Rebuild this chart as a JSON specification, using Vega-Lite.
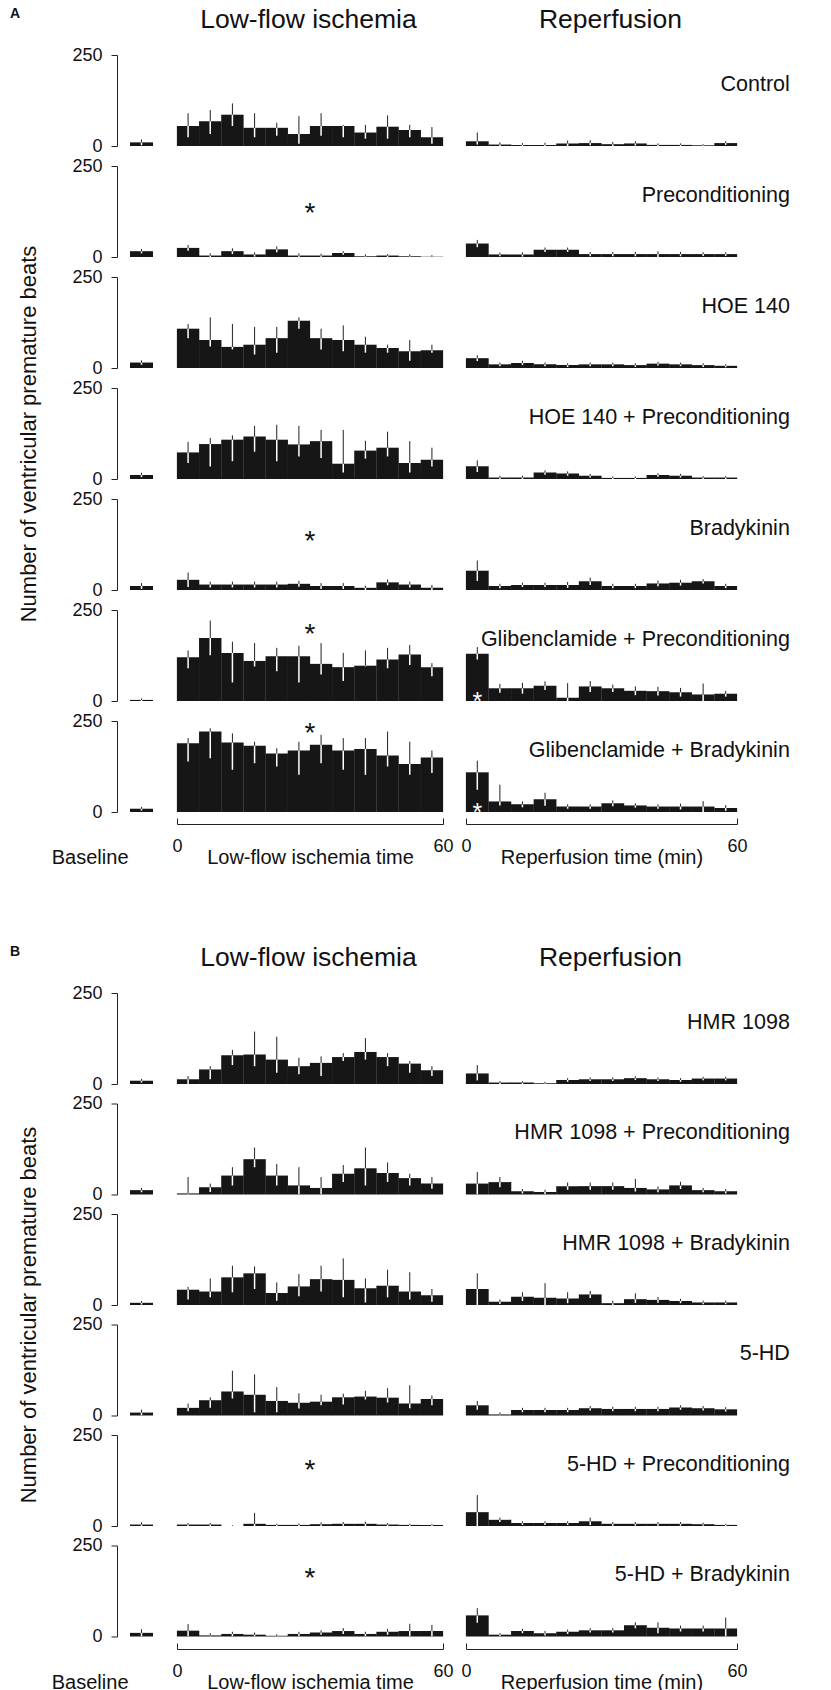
{
"$schema":"https://vega.github.io/schema/vega-lite/v6.json",
"background":"white",
"padding":{"left":9,"top":6,"right":0,"bottom":0},
"config":{"font":"Liberation Sans","view":{"stroke":null},
"axis":{"grid":false,"domainColor":"#222","tickColor":"#222","labelColor":"#111","titleColor":"#111","labelFontSize":18,"titleFontSize":20,"titleFontWeight":"normal","domainWidth":1,"tickWidth":1},
"header":{"titleFontWeight":"normal","titleColor":"#111"},
"title":{"color":"#111","fontWeight":"normal"}},
"datasets":{
"base":[
{"c":"Control","p":"Baseline","v":10,"lo":2,"hi":18},
{"c":"Preconditioning","p":"Baseline","v":16,"lo":10,"hi":22},
{"c":"HOE 140","p":"Baseline","v":15,"lo":9,"hi":21},
{"c":"HOE 140 + Preconditioning","p":"Baseline","v":11,"lo":5,"hi":17},
{"c":"Bradykinin","p":"Baseline","v":11,"lo":3,"hi":19},
{"c":"Glibenclamide + Preconditioning","p":"Baseline","v":3,"lo":0,"hi":7},
{"c":"Glibenclamide + Bradykinin","p":"Baseline","v":9,"lo":4,"hi":14},
{"c":"HMR 1098","p":"Baseline","v":9,"lo":4,"hi":14},
{"c":"HMR 1098 + Preconditioning","p":"Baseline","v":12,"lo":6,"hi":18},
{"c":"HMR 1098 + Bradykinin","p":"Baseline","v":6,"lo":1,"hi":11},
{"c":"5-HD","p":"Baseline","v":8,"lo":0,"hi":16},
{"c":"5-HD + Preconditioning","p":"Baseline","v":4,"lo":0,"hi":10},
{"c":"5-HD + Bradykinin","p":"Baseline","v":10,"lo":0,"hi":20}
],
"isch":[
{"c":"Control","t":2.5,"v":55,"lo":24,"hi":90},
{"c":"Control","t":7.5,"v":68,"lo":33,"hi":99},
{"c":"Control","t":12.5,"v":86,"lo":55,"hi":117},
{"c":"Control","t":17.5,"v":50,"lo":24,"hi":90},
{"c":"Control","t":22.5,"v":50,"lo":28,"hi":64},
{"c":"Control","t":27.5,"v":33,"lo":6,"hi":82},
{"c":"Control","t":32.5,"v":55,"lo":28,"hi":90},
{"c":"Control","t":37.5,"v":55,"lo":24,"hi":58},
{"c":"Control","t":42.5,"v":37,"lo":20,"hi":58},
{"c":"Control","t":47.5,"v":53,"lo":20,"hi":84},
{"c":"Control","t":52.5,"v":44,"lo":24,"hi":58},
{"c":"Control","t":57.5,"v":24,"lo":6,"hi":52},
{"c":"Preconditioning","t":2.5,"v":25,"lo":17,"hi":33},
{"c":"Preconditioning","t":7.5,"v":4,"lo":0,"hi":10},
{"c":"Preconditioning","t":12.5,"v":16,"lo":8,"hi":24},
{"c":"Preconditioning","t":17.5,"v":7,"lo":1,"hi":13},
{"c":"Preconditioning","t":22.5,"v":21,"lo":13,"hi":29},
{"c":"Preconditioning","t":27.5,"v":4,"lo":0,"hi":10},
{"c":"Preconditioning","t":32.5,"v":4,"lo":0,"hi":9},
{"c":"Preconditioning","t":37.5,"v":11,"lo":6,"hi":16},
{"c":"Preconditioning","t":42.5,"v":2,"lo":0,"hi":7},
{"c":"Preconditioning","t":47.5,"v":4,"lo":0,"hi":8},
{"c":"Preconditioning","t":52.5,"v":2,"lo":0,"hi":7},
{"c":"Preconditioning","t":57.5,"v":1,"lo":0,"hi":5},
{"c":"HOE 140","t":2.5,"v":108,"lo":82,"hi":121},
{"c":"HOE 140","t":7.5,"v":77,"lo":59,"hi":139},
{"c":"HOE 140","t":12.5,"v":58,"lo":51,"hi":121},
{"c":"HOE 140","t":17.5,"v":64,"lo":37,"hi":113},
{"c":"HOE 140","t":22.5,"v":82,"lo":42,"hi":113},
{"c":"HOE 140","t":27.5,"v":130,"lo":108,"hi":139},
{"c":"HOE 140","t":32.5,"v":82,"lo":51,"hi":108},
{"c":"HOE 140","t":37.5,"v":77,"lo":46,"hi":117},
{"c":"HOE 140","t":42.5,"v":64,"lo":42,"hi":86},
{"c":"HOE 140","t":47.5,"v":55,"lo":42,"hi":64},
{"c":"HOE 140","t":52.5,"v":46,"lo":20,"hi":77},
{"c":"HOE 140","t":57.5,"v":49,"lo":42,"hi":64},
{"c":"HOE 140 + Preconditioning","t":2.5,"v":73,"lo":44,"hi":102},
{"c":"HOE 140 + Preconditioning","t":7.5,"v":96,"lo":34,"hi":113},
{"c":"HOE 140 + Preconditioning","t":12.5,"v":108,"lo":49,"hi":120},
{"c":"HOE 140 + Preconditioning","t":17.5,"v":117,"lo":75,"hi":146},
{"c":"HOE 140 + Preconditioning","t":22.5,"v":108,"lo":49,"hi":149},
{"c":"HOE 140 + Preconditioning","t":27.5,"v":95,"lo":62,"hi":146},
{"c":"HOE 140 + Preconditioning","t":32.5,"v":104,"lo":58,"hi":135},
{"c":"HOE 140 + Preconditioning","t":37.5,"v":42,"lo":18,"hi":135},
{"c":"HOE 140 + Preconditioning","t":42.5,"v":78,"lo":56,"hi":105},
{"c":"HOE 140 + Preconditioning","t":47.5,"v":86,"lo":62,"hi":130},
{"c":"HOE 140 + Preconditioning","t":52.5,"v":44,"lo":18,"hi":104},
{"c":"HOE 140 + Preconditioning","t":57.5,"v":53,"lo":34,"hi":86},
{"c":"Bradykinin","t":2.5,"v":28,"lo":8,"hi":48},
{"c":"Bradykinin","t":7.5,"v":15,"lo":7,"hi":23},
{"c":"Bradykinin","t":12.5,"v":15,"lo":7,"hi":23},
{"c":"Bradykinin","t":17.5,"v":15,"lo":7,"hi":23},
{"c":"Bradykinin","t":22.5,"v":15,"lo":7,"hi":23},
{"c":"Bradykinin","t":27.5,"v":17,"lo":9,"hi":25},
{"c":"Bradykinin","t":32.5,"v":11,"lo":3,"hi":19},
{"c":"Bradykinin","t":37.5,"v":11,"lo":3,"hi":19},
{"c":"Bradykinin","t":42.5,"v":6,"lo":0,"hi":12},
{"c":"Bradykinin","t":47.5,"v":21,"lo":13,"hi":29},
{"c":"Bradykinin","t":52.5,"v":15,"lo":7,"hi":23},
{"c":"Bradykinin","t":57.5,"v":6,"lo":0,"hi":14},
{"c":"Glibenclamide + Preconditioning","t":2.5,"v":120,"lo":90,"hi":139},
{"c":"Glibenclamide + Preconditioning","t":7.5,"v":173,"lo":126,"hi":221},
{"c":"Glibenclamide + Preconditioning","t":12.5,"v":132,"lo":51,"hi":163},
{"c":"Glibenclamide + Preconditioning","t":17.5,"v":110,"lo":95,"hi":159},
{"c":"Glibenclamide + Preconditioning","t":22.5,"v":123,"lo":82,"hi":146},
{"c":"Glibenclamide + Preconditioning","t":27.5,"v":123,"lo":51,"hi":152},
{"c":"Glibenclamide + Preconditioning","t":32.5,"v":102,"lo":73,"hi":159},
{"c":"Glibenclamide + Preconditioning","t":37.5,"v":93,"lo":55,"hi":132},
{"c":"Glibenclamide + Preconditioning","t":42.5,"v":97,"lo":95,"hi":139},
{"c":"Glibenclamide + Preconditioning","t":47.5,"v":114,"lo":90,"hi":146},
{"c":"Glibenclamide + Preconditioning","t":52.5,"v":128,"lo":99,"hi":154},
{"c":"Glibenclamide + Preconditioning","t":57.5,"v":93,"lo":68,"hi":104},
{"c":"Glibenclamide + Bradykinin","t":2.5,"v":189,"lo":139,"hi":203},
{"c":"Glibenclamide + Bradykinin","t":7.5,"v":221,"lo":148,"hi":230},
{"c":"Glibenclamide + Bradykinin","t":12.5,"v":191,"lo":116,"hi":216},
{"c":"Glibenclamide + Bradykinin","t":17.5,"v":182,"lo":134,"hi":193},
{"c":"Glibenclamide + Bradykinin","t":22.5,"v":161,"lo":125,"hi":175},
{"c":"Glibenclamide + Bradykinin","t":27.5,"v":169,"lo":102,"hi":193},
{"c":"Glibenclamide + Bradykinin","t":32.5,"v":185,"lo":134,"hi":212},
{"c":"Glibenclamide + Bradykinin","t":37.5,"v":169,"lo":116,"hi":203},
{"c":"Glibenclamide + Bradykinin","t":42.5,"v":173,"lo":102,"hi":203},
{"c":"Glibenclamide + Bradykinin","t":47.5,"v":155,"lo":125,"hi":221},
{"c":"Glibenclamide + Bradykinin","t":52.5,"v":132,"lo":102,"hi":193},
{"c":"Glibenclamide + Bradykinin","t":57.5,"v":150,"lo":107,"hi":169},
{"c":"HMR 1098","t":2.5,"v":13,"lo":0,"hi":22},
{"c":"HMR 1098","t":7.5,"v":40,"lo":13,"hi":49},
{"c":"HMR 1098","t":12.5,"v":79,"lo":52,"hi":94},
{"c":"HMR 1098","t":17.5,"v":81,"lo":49,"hi":144},
{"c":"HMR 1098","t":22.5,"v":67,"lo":31,"hi":130},
{"c":"HMR 1098","t":27.5,"v":49,"lo":27,"hi":72},
{"c":"HMR 1098","t":32.5,"v":58,"lo":22,"hi":76},
{"c":"HMR 1098","t":37.5,"v":74,"lo":63,"hi":85},
{"c":"HMR 1098","t":42.5,"v":88,"lo":67,"hi":126},
{"c":"HMR 1098","t":47.5,"v":74,"lo":49,"hi":85},
{"c":"HMR 1098","t":52.5,"v":56,"lo":31,"hi":63},
{"c":"HMR 1098","t":57.5,"v":38,"lo":22,"hi":49},
{"c":"HMR 1098 + Preconditioning","t":2.5,"v":3,"lo":0,"hi":48},
{"c":"HMR 1098 + Preconditioning","t":7.5,"v":20,"lo":7,"hi":30},
{"c":"HMR 1098 + Preconditioning","t":12.5,"v":52,"lo":25,"hi":75},
{"c":"HMR 1098 + Preconditioning","t":17.5,"v":97,"lo":75,"hi":129},
{"c":"HMR 1098 + Preconditioning","t":22.5,"v":52,"lo":25,"hi":84},
{"c":"HMR 1098 + Preconditioning","t":27.5,"v":25,"lo":0,"hi":75},
{"c":"HMR 1098 + Preconditioning","t":32.5,"v":18,"lo":0,"hi":48},
{"c":"HMR 1098 + Preconditioning","t":37.5,"v":57,"lo":34,"hi":81},
{"c":"HMR 1098 + Preconditioning","t":42.5,"v":72,"lo":25,"hi":129},
{"c":"HMR 1098 + Preconditioning","t":47.5,"v":59,"lo":34,"hi":88},
{"c":"HMR 1098 + Preconditioning","t":52.5,"v":45,"lo":25,"hi":57},
{"c":"HMR 1098 + Preconditioning","t":57.5,"v":30,"lo":16,"hi":48},
{"c":"HMR 1098 + Bradykinin","t":2.5,"v":42,"lo":15,"hi":50},
{"c":"HMR 1098 + Bradykinin","t":7.5,"v":37,"lo":21,"hi":73},
{"c":"HMR 1098 + Bradykinin","t":12.5,"v":76,"lo":35,"hi":108},
{"c":"HMR 1098 + Bradykinin","t":17.5,"v":87,"lo":44,"hi":106},
{"c":"HMR 1098 + Bradykinin","t":22.5,"v":33,"lo":12,"hi":62},
{"c":"HMR 1098 + Bradykinin","t":27.5,"v":51,"lo":24,"hi":85},
{"c":"HMR 1098 + Bradykinin","t":32.5,"v":71,"lo":37,"hi":108},
{"c":"HMR 1098 + Bradykinin","t":37.5,"v":69,"lo":21,"hi":128},
{"c":"HMR 1098 + Bradykinin","t":42.5,"v":46,"lo":7,"hi":73},
{"c":"HMR 1098 + Bradykinin","t":47.5,"v":53,"lo":21,"hi":97},
{"c":"HMR 1098 + Bradykinin","t":52.5,"v":37,"lo":15,"hi":90},
{"c":"HMR 1098 + Bradykinin","t":57.5,"v":27,"lo":9,"hi":44},
{"c":"5-HD","t":2.5,"v":21,"lo":12,"hi":33},
{"c":"5-HD","t":7.5,"v":42,"lo":21,"hi":50},
{"c":"5-HD","t":12.5,"v":66,"lo":47,"hi":123},
{"c":"5-HD","t":17.5,"v":57,"lo":9,"hi":113},
{"c":"5-HD","t":22.5,"v":40,"lo":9,"hi":78},
{"c":"5-HD","t":27.5,"v":35,"lo":19,"hi":61},
{"c":"5-HD","t":32.5,"v":38,"lo":28,"hi":57},
{"c":"5-HD","t":37.5,"v":50,"lo":30,"hi":60},
{"c":"5-HD","t":42.5,"v":52,"lo":44,"hi":68},
{"c":"5-HD","t":47.5,"v":49,"lo":36,"hi":75},
{"c":"5-HD","t":52.5,"v":33,"lo":20,"hi":83},
{"c":"5-HD","t":57.5,"v":45,"lo":28,"hi":55},
{"c":"5-HD + Preconditioning","t":2.5,"v":4,"lo":0,"hi":8},
{"c":"5-HD + Preconditioning","t":7.5,"v":4,"lo":0,"hi":8},
{"c":"5-HD + Preconditioning","t":12.5,"v":0,"lo":0,"hi":2},
{"c":"5-HD + Preconditioning","t":17.5,"v":6,"lo":0,"hi":36},
{"c":"5-HD + Preconditioning","t":22.5,"v":3,"lo":0,"hi":6},
{"c":"5-HD + Preconditioning","t":27.5,"v":3,"lo":0,"hi":7},
{"c":"5-HD + Preconditioning","t":32.5,"v":5,"lo":0,"hi":10},
{"c":"5-HD + Preconditioning","t":37.5,"v":6,"lo":1,"hi":11},
{"c":"5-HD + Preconditioning","t":42.5,"v":6,"lo":0,"hi":12},
{"c":"5-HD + Preconditioning","t":47.5,"v":4,"lo":0,"hi":8},
{"c":"5-HD + Preconditioning","t":52.5,"v":3,"lo":0,"hi":6},
{"c":"5-HD + Preconditioning","t":57.5,"v":3,"lo":0,"hi":6},
{"c":"5-HD + Bradykinin","t":2.5,"v":16,"lo":0,"hi":34},
{"c":"5-HD + Bradykinin","t":7.5,"v":3,"lo":0,"hi":9},
{"c":"5-HD + Bradykinin","t":12.5,"v":7,"lo":1,"hi":13},
{"c":"5-HD + Bradykinin","t":17.5,"v":5,"lo":0,"hi":11},
{"c":"5-HD + Bradykinin","t":22.5,"v":2,"lo":0,"hi":6},
{"c":"5-HD + Bradykinin","t":27.5,"v":7,"lo":1,"hi":13},
{"c":"5-HD + Bradykinin","t":32.5,"v":11,"lo":5,"hi":17},
{"c":"5-HD + Bradykinin","t":37.5,"v":15,"lo":7,"hi":23},
{"c":"5-HD + Bradykinin","t":42.5,"v":7,"lo":1,"hi":13},
{"c":"5-HD + Bradykinin","t":47.5,"v":13,"lo":5,"hi":21},
{"c":"5-HD + Bradykinin","t":52.5,"v":15,"lo":0,"hi":35},
{"c":"5-HD + Bradykinin","t":57.5,"v":15,"lo":0,"hi":32},
{"c":"Preconditioning","t":30,"s":137},
{"c":"Bradykinin","t":30,"s":151},
{"c":"Glibenclamide + Preconditioning","t":30,"s":200},
{"c":"Glibenclamide + Bradykinin","t":30,"s":234},
{"c":"5-HD + Preconditioning","t":30,"s":170},
{"c":"5-HD + Bradykinin","t":30,"s":176}
],
"rep":[
{"c":"Control","t":2.5,"v":13,"lo":4,"hi":37},
{"c":"Control","t":7.5,"v":4,"lo":0,"hi":10},
{"c":"Control","t":12.5,"v":3,"lo":0,"hi":8},
{"c":"Control","t":17.5,"v":3,"lo":0,"hi":9},
{"c":"Control","t":22.5,"v":7,"lo":0,"hi":15},
{"c":"Control","t":27.5,"v":8,"lo":2,"hi":16},
{"c":"Control","t":32.5,"v":5,"lo":0,"hi":11},
{"c":"Control","t":37.5,"v":7,"lo":1,"hi":13},
{"c":"Control","t":42.5,"v":3,"lo":0,"hi":7},
{"c":"Control","t":47.5,"v":3,"lo":0,"hi":7},
{"c":"Control","t":52.5,"v":2,"lo":0,"hi":5},
{"c":"Control","t":57.5,"v":8,"lo":3,"hi":13},
{"c":"Preconditioning","t":2.5,"v":37,"lo":27,"hi":47},
{"c":"Preconditioning","t":7.5,"v":7,"lo":2,"hi":12},
{"c":"Preconditioning","t":12.5,"v":7,"lo":1,"hi":13},
{"c":"Preconditioning","t":17.5,"v":20,"lo":14,"hi":26},
{"c":"Preconditioning","t":22.5,"v":20,"lo":14,"hi":26},
{"c":"Preconditioning","t":27.5,"v":8,"lo":2,"hi":14},
{"c":"Preconditioning","t":32.5,"v":8,"lo":2,"hi":14},
{"c":"Preconditioning","t":37.5,"v":8,"lo":2,"hi":14},
{"c":"Preconditioning","t":42.5,"v":8,"lo":0,"hi":16},
{"c":"Preconditioning","t":47.5,"v":8,"lo":2,"hi":14},
{"c":"Preconditioning","t":52.5,"v":8,"lo":3,"hi":13},
{"c":"Preconditioning","t":57.5,"v":8,"lo":3,"hi":13},
{"c":"HOE 140","t":2.5,"v":27,"lo":19,"hi":35},
{"c":"HOE 140","t":7.5,"v":10,"lo":5,"hi":15},
{"c":"HOE 140","t":12.5,"v":14,"lo":8,"hi":20},
{"c":"HOE 140","t":17.5,"v":10,"lo":5,"hi":15},
{"c":"HOE 140","t":22.5,"v":8,"lo":3,"hi":13},
{"c":"HOE 140","t":27.5,"v":10,"lo":5,"hi":15},
{"c":"HOE 140","t":32.5,"v":10,"lo":5,"hi":15},
{"c":"HOE 140","t":37.5,"v":8,"lo":3,"hi":13},
{"c":"HOE 140","t":42.5,"v":12,"lo":7,"hi":17},
{"c":"HOE 140","t":47.5,"v":10,"lo":5,"hi":15},
{"c":"HOE 140","t":52.5,"v":8,"lo":3,"hi":13},
{"c":"HOE 140","t":57.5,"v":6,"lo":2,"hi":10},
{"c":"HOE 140 + Preconditioning","t":2.5,"v":35,"lo":19,"hi":51},
{"c":"HOE 140 + Preconditioning","t":7.5,"v":4,"lo":0,"hi":9},
{"c":"HOE 140 + Preconditioning","t":12.5,"v":4,"lo":0,"hi":9},
{"c":"HOE 140 + Preconditioning","t":17.5,"v":18,"lo":12,"hi":24},
{"c":"HOE 140 + Preconditioning","t":22.5,"v":15,"lo":9,"hi":21},
{"c":"HOE 140 + Preconditioning","t":27.5,"v":9,"lo":4,"hi":14},
{"c":"HOE 140 + Preconditioning","t":32.5,"v":3,"lo":0,"hi":7},
{"c":"HOE 140 + Preconditioning","t":37.5,"v":3,"lo":0,"hi":7},
{"c":"HOE 140 + Preconditioning","t":42.5,"v":11,"lo":6,"hi":16},
{"c":"HOE 140 + Preconditioning","t":47.5,"v":9,"lo":4,"hi":14},
{"c":"HOE 140 + Preconditioning","t":52.5,"v":4,"lo":0,"hi":8},
{"c":"HOE 140 + Preconditioning","t":57.5,"v":4,"lo":0,"hi":8},
{"c":"Bradykinin","t":2.5,"v":53,"lo":25,"hi":81},
{"c":"Bradykinin","t":7.5,"v":11,"lo":5,"hi":17},
{"c":"Bradykinin","t":12.5,"v":14,"lo":8,"hi":20},
{"c":"Bradykinin","t":17.5,"v":14,"lo":8,"hi":20},
{"c":"Bradykinin","t":22.5,"v":14,"lo":6,"hi":22},
{"c":"Bradykinin","t":27.5,"v":24,"lo":14,"hi":34},
{"c":"Bradykinin","t":32.5,"v":11,"lo":5,"hi":17},
{"c":"Bradykinin","t":37.5,"v":11,"lo":5,"hi":17},
{"c":"Bradykinin","t":42.5,"v":18,"lo":10,"hi":26},
{"c":"Bradykinin","t":47.5,"v":20,"lo":12,"hi":28},
{"c":"Bradykinin","t":52.5,"v":24,"lo":18,"hi":30},
{"c":"Bradykinin","t":57.5,"v":11,"lo":5,"hi":17},
{"c":"Glibenclamide + Preconditioning","t":2.5,"v":130,"lo":114,"hi":148},
{"c":"Glibenclamide + Preconditioning","t":7.5,"v":35,"lo":23,"hi":47},
{"c":"Glibenclamide + Preconditioning","t":12.5,"v":35,"lo":20,"hi":50},
{"c":"Glibenclamide + Preconditioning","t":17.5,"v":42,"lo":30,"hi":54},
{"c":"Glibenclamide + Preconditioning","t":22.5,"v":9,"lo":0,"hi":49},
{"c":"Glibenclamide + Preconditioning","t":27.5,"v":40,"lo":25,"hi":55},
{"c":"Glibenclamide + Preconditioning","t":32.5,"v":35,"lo":25,"hi":45},
{"c":"Glibenclamide + Preconditioning","t":37.5,"v":28,"lo":16,"hi":40},
{"c":"Glibenclamide + Preconditioning","t":42.5,"v":27,"lo":15,"hi":39},
{"c":"Glibenclamide + Preconditioning","t":47.5,"v":24,"lo":12,"hi":36},
{"c":"Glibenclamide + Preconditioning","t":52.5,"v":18,"lo":0,"hi":48},
{"c":"Glibenclamide + Preconditioning","t":57.5,"v":20,"lo":12,"hi":28},
{"c":"Glibenclamide + Bradykinin","t":2.5,"v":109,"lo":61,"hi":141},
{"c":"Glibenclamide + Bradykinin","t":7.5,"v":29,"lo":18,"hi":75},
{"c":"Glibenclamide + Bradykinin","t":12.5,"v":21,"lo":13,"hi":29},
{"c":"Glibenclamide + Bradykinin","t":17.5,"v":35,"lo":17,"hi":53},
{"c":"Glibenclamide + Bradykinin","t":22.5,"v":15,"lo":9,"hi":21},
{"c":"Glibenclamide + Bradykinin","t":27.5,"v":15,"lo":9,"hi":21},
{"c":"Glibenclamide + Bradykinin","t":32.5,"v":24,"lo":16,"hi":32},
{"c":"Glibenclamide + Bradykinin","t":37.5,"v":18,"lo":12,"hi":24},
{"c":"Glibenclamide + Bradykinin","t":42.5,"v":15,"lo":9,"hi":21},
{"c":"Glibenclamide + Bradykinin","t":47.5,"v":15,"lo":7,"hi":23},
{"c":"Glibenclamide + Bradykinin","t":52.5,"v":15,"lo":0,"hi":30},
{"c":"Glibenclamide + Bradykinin","t":57.5,"v":11,"lo":3,"hi":19},
{"c":"HMR 1098","t":2.5,"v":29,"lo":10,"hi":52},
{"c":"HMR 1098","t":7.5,"v":4,"lo":0,"hi":8},
{"c":"HMR 1098","t":12.5,"v":4,"lo":0,"hi":8},
{"c":"HMR 1098","t":17.5,"v":2,"lo":0,"hi":6},
{"c":"HMR 1098","t":22.5,"v":11,"lo":6,"hi":16},
{"c":"HMR 1098","t":27.5,"v":13,"lo":8,"hi":18},
{"c":"HMR 1098","t":32.5,"v":13,"lo":8,"hi":18},
{"c":"HMR 1098","t":37.5,"v":16,"lo":11,"hi":21},
{"c":"HMR 1098","t":42.5,"v":13,"lo":8,"hi":18},
{"c":"HMR 1098","t":47.5,"v":11,"lo":6,"hi":16},
{"c":"HMR 1098","t":52.5,"v":15,"lo":10,"hi":20},
{"c":"HMR 1098","t":57.5,"v":15,"lo":10,"hi":20},
{"c":"HMR 1098 + Preconditioning","t":2.5,"v":30,"lo":0,"hi":62},
{"c":"HMR 1098 + Preconditioning","t":7.5,"v":34,"lo":20,"hi":48},
{"c":"HMR 1098 + Preconditioning","t":12.5,"v":9,"lo":3,"hi":15},
{"c":"HMR 1098 + Preconditioning","t":17.5,"v":7,"lo":1,"hi":13},
{"c":"HMR 1098 + Preconditioning","t":22.5,"v":23,"lo":13,"hi":33},
{"c":"HMR 1098 + Preconditioning","t":27.5,"v":23,"lo":13,"hi":33},
{"c":"HMR 1098 + Preconditioning","t":32.5,"v":23,"lo":13,"hi":33},
{"c":"HMR 1098 + Preconditioning","t":37.5,"v":18,"lo":8,"hi":43},
{"c":"HMR 1098 + Preconditioning","t":42.5,"v":14,"lo":6,"hi":22},
{"c":"HMR 1098 + Preconditioning","t":47.5,"v":25,"lo":15,"hi":35},
{"c":"HMR 1098 + Preconditioning","t":52.5,"v":12,"lo":6,"hi":18},
{"c":"HMR 1098 + Preconditioning","t":57.5,"v":9,"lo":3,"hi":15},
{"c":"HMR 1098 + Bradykinin","t":2.5,"v":44,"lo":0,"hi":87},
{"c":"HMR 1098 + Bradykinin","t":7.5,"v":9,"lo":3,"hi":15},
{"c":"HMR 1098 + Bradykinin","t":12.5,"v":23,"lo":11,"hi":35},
{"c":"HMR 1098 + Bradykinin","t":17.5,"v":20,"lo":0,"hi":60},
{"c":"HMR 1098 + Bradykinin","t":22.5,"v":18,"lo":5,"hi":35},
{"c":"HMR 1098 + Bradykinin","t":27.5,"v":29,"lo":19,"hi":39},
{"c":"HMR 1098 + Bradykinin","t":32.5,"v":5,"lo":0,"hi":12},
{"c":"HMR 1098 + Bradykinin","t":37.5,"v":16,"lo":6,"hi":32},
{"c":"HMR 1098 + Bradykinin","t":42.5,"v":14,"lo":6,"hi":22},
{"c":"HMR 1098 + Bradykinin","t":47.5,"v":11,"lo":5,"hi":17},
{"c":"HMR 1098 + Bradykinin","t":52.5,"v":7,"lo":2,"hi":12},
{"c":"HMR 1098 + Bradykinin","t":57.5,"v":7,"lo":2,"hi":12},
{"c":"5-HD","t":2.5,"v":28,"lo":16,"hi":40},
{"c":"5-HD","t":7.5,"v":3,"lo":0,"hi":8},
{"c":"5-HD","t":12.5,"v":15,"lo":9,"hi":21},
{"c":"5-HD","t":17.5,"v":15,"lo":9,"hi":21},
{"c":"5-HD","t":22.5,"v":15,"lo":9,"hi":21},
{"c":"5-HD","t":27.5,"v":20,"lo":14,"hi":26},
{"c":"5-HD","t":32.5,"v":18,"lo":12,"hi":24},
{"c":"5-HD","t":37.5,"v":18,"lo":12,"hi":24},
{"c":"5-HD","t":42.5,"v":18,"lo":12,"hi":24},
{"c":"5-HD","t":47.5,"v":22,"lo":16,"hi":28},
{"c":"5-HD","t":52.5,"v":20,"lo":14,"hi":26},
{"c":"5-HD","t":57.5,"v":17,"lo":11,"hi":23},
{"c":"5-HD + Preconditioning","t":2.5,"v":38,"lo":0,"hi":85},
{"c":"5-HD + Preconditioning","t":7.5,"v":17,"lo":11,"hi":23},
{"c":"5-HD + Preconditioning","t":12.5,"v":8,"lo":3,"hi":13},
{"c":"5-HD + Preconditioning","t":17.5,"v":8,"lo":3,"hi":13},
{"c":"5-HD + Preconditioning","t":22.5,"v":8,"lo":3,"hi":13},
{"c":"5-HD + Preconditioning","t":27.5,"v":13,"lo":3,"hi":23},
{"c":"5-HD + Preconditioning","t":32.5,"v":6,"lo":1,"hi":11},
{"c":"5-HD + Preconditioning","t":37.5,"v":6,"lo":1,"hi":11},
{"c":"5-HD + Preconditioning","t":42.5,"v":6,"lo":1,"hi":11},
{"c":"5-HD + Preconditioning","t":47.5,"v":6,"lo":1,"hi":11},
{"c":"5-HD + Preconditioning","t":52.5,"v":5,"lo":1,"hi":9},
{"c":"5-HD + Preconditioning","t":57.5,"v":3,"lo":0,"hi":6},
{"c":"5-HD + Bradykinin","t":2.5,"v":58,"lo":38,"hi":78},
{"c":"5-HD + Bradykinin","t":7.5,"v":5,"lo":1,"hi":9},
{"c":"5-HD + Bradykinin","t":12.5,"v":15,"lo":9,"hi":21},
{"c":"5-HD + Bradykinin","t":17.5,"v":9,"lo":3,"hi":15},
{"c":"5-HD + Bradykinin","t":22.5,"v":13,"lo":7,"hi":19},
{"c":"5-HD + Bradykinin","t":27.5,"v":17,"lo":11,"hi":23},
{"c":"5-HD + Bradykinin","t":32.5,"v":17,"lo":11,"hi":23},
{"c":"5-HD + Bradykinin","t":37.5,"v":31,"lo":23,"hi":39},
{"c":"5-HD + Bradykinin","t":42.5,"v":24,"lo":9,"hi":39},
{"c":"5-HD + Bradykinin","t":47.5,"v":22,"lo":14,"hi":30},
{"c":"5-HD + Bradykinin","t":52.5,"v":22,"lo":14,"hi":30},
{"c":"5-HD + Bradykinin","t":57.5,"v":22,"lo":0,"hi":52},
{"c":"Glibenclamide + Preconditioning","t":2.5,"w":13},
{"c":"Glibenclamide + Bradykinin","t":2.5,"w":13}
]
},
"vconcat":[
{"hconcat":[
 {"data":{"name":"base"},
  "transform":[{"filter":{"field":"c","oneOf":["Control","Preconditioning","HOE 140","HOE 140 + Preconditioning","Bradykinin","Glibenclamide + Preconditioning","Glibenclamide + Bradykinin"]}}],
  "title":{"text":"A","fontSize":14,"fontWeight":"bold","anchor":"start","offset":25.5,"dx":-8},
  "facet":{"row":{"field":"c","type":"nominal","sort":["Control","Preconditioning","HOE 140","HOE 140 + Preconditioning","Bradykinin","Glibenclamide + Preconditioning","Glibenclamide + Bradykinin"],"title":"Number of ventricular premature beats","header":{"labels":false,"titleFontSize":22,"titleFontWeight":"normal","titlePadding":20}}},
  "spacing":{"row":20},
  "spec":{"width":35,"height":91,
   "encoding":{
    "x":{"field":"p","type":"nominal","scale":{"paddingInner":0,"paddingOuter":0.2609,"align":0},"axis":{"labels":false,"ticks":false,"domain":false,"title":"Baseline","titleAlign":"right","titleX":-2,"titlePadding":35}},
    "y":{"field":"v","type":"quantitative","scale":{"domain":[0,250],"nice":false},"axis":{"values":[0,250],"title":null,"offset":13,"tickSize":6,"labelPadding":9}}},
   "layer":[
    {"mark":{"type":"bar","color":"#161616"},"encoding":{}},
    {"mark":{"type":"rule","color":"white","strokeWidth":1.5,"clip":true},"encoding":{"y2":{"field":"lo"}}},
    {"mark":{"type":"rule","color":"#222","strokeWidth":1,"clip":true},"encoding":{"y2":{"field":"hi"}}}
   ]}},
 {"data":{"name":"isch"},
  "transform":[{"filter":{"field":"c","oneOf":["Control","Preconditioning","HOE 140","HOE 140 + Preconditioning","Bradykinin","Glibenclamide + Preconditioning","Glibenclamide + Bradykinin"]}}],
  "title":{"text":"Low-flow ischemia","fontSize":26.5,"fontWeight":"normal","anchor":"middle","offset":22,"dx":-4},
  "facet":{"row":{"field":"c","type":"nominal","sort":["Control","Preconditioning","HOE 140","HOE 140 + Preconditioning","Bradykinin","Glibenclamide + Preconditioning","Glibenclamide + Bradykinin"],"title":null,"header":{"labels":false,"title":null}}},
  "spacing":{"row":20},
  "spec":{"width":266,"height":91,
   "encoding":{
    "x":{"field":"t","type":"quantitative","scale":{"domain":[0,60],"nice":false,"zero":false,"padding":0},"axis":{"values":[0,60],"title":"Low-flow ischemia time","labelFlush":false,"offset":12,"tickSize":-6,"labelPadding":19,"titlePadding":-8}},
    "y":{"field":"v","type":"quantitative","scale":{"domain":[0,250],"nice":false},"axis":null}},
   "layer":[
    {"transform":[{"filter":"isValid(datum.v)"}],"mark":{"type":"bar","size":22.4,"color":"#161616"},"encoding":{}},
    {"transform":[{"filter":"isValid(datum.v)"}],"mark":{"type":"rule","color":"white","strokeWidth":1.5,"clip":true},"encoding":{"y2":{"field":"lo"}}},
    {"transform":[{"filter":"isValid(datum.v)"}],"mark":{"type":"rule","color":"#222","strokeWidth":1,"clip":true},"encoding":{"y2":{"field":"hi"}}},
    {"transform":[{"filter":"isValid(datum.s)"}],"mark":{"type":"text","text":"*","fontSize":28,"baseline":"alphabetic","dy":15,"color":"#111","clip":true},"encoding":{"y":{"field":"s","type":"quantitative","axis":null}}}
   ]}},
 {"data":{"name":"rep"},
  "transform":[{"filter":{"field":"c","oneOf":["Control","Preconditioning","HOE 140","HOE 140 + Preconditioning","Bradykinin","Glibenclamide + Preconditioning","Glibenclamide + Bradykinin"]}}],
  "title":{"text":"Reperfusion","fontSize":26.5,"fontWeight":"normal","anchor":"middle","offset":22,"dx":-15},
  "facet":{"row":{"field":"c","type":"nominal","sort":["Control","Preconditioning","HOE 140","HOE 140 + Preconditioning","Bradykinin","Glibenclamide + Preconditioning","Glibenclamide + Bradykinin"],"title":null,"header":{"labels":false,"title":null}}},
  "spacing":{"row":20},
  "spec":{"width":271,"height":91,
   "encoding":{
    "x":{"field":"t","type":"quantitative","scale":{"domain":[0,60],"nice":false,"zero":false,"padding":0},"axis":{"values":[0,60],"title":"Reperfusion time (min)","labelFlush":false,"offset":12,"tickSize":-6,"labelPadding":19,"titlePadding":-8}},
    "y":{"field":"v","type":"quantitative","scale":{"domain":[0,250],"nice":false},"axis":null}},
   "layer":[
    {"transform":[{"filter":"isValid(datum.v)"}],"mark":{"type":"bar","size":22.8,"color":"#161616"},"encoding":{}},
    {"transform":[{"filter":"isValid(datum.v)"}],"mark":{"type":"rule","color":"white","strokeWidth":1.5,"clip":true},"encoding":{"y2":{"field":"lo"}}},
    {"transform":[{"filter":"isValid(datum.v)"}],"mark":{"type":"rule","color":"#222","strokeWidth":1,"clip":true},"encoding":{"y2":{"field":"hi"}}},
    {"transform":[{"filter":"isValid(datum.w)"}],"mark":{"type":"text","text":"*","fontSize":25,"baseline":"alphabetic","dy":14,"color":"white","clip":true},"encoding":{"y":{"field":"w","type":"quantitative","axis":null}}},
    {"transform":[{"filter":"datum.t == 2.5 && isValid(datum.v)"}],"mark":{"type":"text","align":"right","baseline":"middle","fontSize":21.5,"color":"#111"},"encoding":{"x":{"datum":71.7},"y":{"datum":168},"text":{"field":"c"}}}
   ]}}
],"spacing":6},
{"hconcat":[
 {"data":{"name":"base"},
  "transform":[{"filter":{"field":"c","oneOf":["HMR 1098","HMR 1098 + Preconditioning","HMR 1098 + Bradykinin","5-HD","5-HD + Preconditioning","5-HD + Bradykinin"]}}],
  "title":{"text":"B","fontSize":14,"fontWeight":"bold","anchor":"start","offset":25.5,"dx":-8},
  "facet":{"row":{"field":"c","type":"nominal","sort":["HMR 1098","HMR 1098 + Preconditioning","HMR 1098 + Bradykinin","5-HD","5-HD + Preconditioning","5-HD + Bradykinin"],"title":"Number of ventricular premature beats","header":{"labels":false,"titleFontSize":22,"titleFontWeight":"normal","titlePadding":20}}},
  "spacing":{"row":19.5},
  "spec":{"width":35,"height":91,
   "encoding":{
    "x":{"field":"p","type":"nominal","scale":{"paddingInner":0,"paddingOuter":0.2609,"align":0},"axis":{"labels":false,"ticks":false,"domain":false,"title":"Baseline","titleAlign":"right","titleX":-2,"titlePadding":35}},
    "y":{"field":"v","type":"quantitative","scale":{"domain":[0,250],"nice":false},"axis":{"values":[0,250],"title":null,"offset":13,"tickSize":6,"labelPadding":9}}},
   "layer":[
    {"mark":{"type":"bar","color":"#161616"},"encoding":{}},
    {"mark":{"type":"rule","color":"white","strokeWidth":1.5,"clip":true},"encoding":{"y2":{"field":"lo"}}},
    {"mark":{"type":"rule","color":"#222","strokeWidth":1,"clip":true},"encoding":{"y2":{"field":"hi"}}}
   ]}},
 {"data":{"name":"isch"},
  "transform":[{"filter":{"field":"c","oneOf":["HMR 1098","HMR 1098 + Preconditioning","HMR 1098 + Bradykinin","5-HD","5-HD + Preconditioning","5-HD + Bradykinin"]}}],
  "title":{"text":"Low-flow ischemia","fontSize":26.5,"fontWeight":"normal","anchor":"middle","offset":22,"dx":-4},
  "facet":{"row":{"field":"c","type":"nominal","sort":["HMR 1098","HMR 1098 + Preconditioning","HMR 1098 + Bradykinin","5-HD","5-HD + Preconditioning","5-HD + Bradykinin"],"title":null,"header":{"labels":false,"title":null}}},
  "spacing":{"row":19.5},
  "spec":{"width":266,"height":91,
   "encoding":{
    "x":{"field":"t","type":"quantitative","scale":{"domain":[0,60],"nice":false,"zero":false,"padding":0},"axis":{"values":[0,60],"title":"Low-flow ischemia time","labelFlush":false,"offset":12,"tickSize":-6,"labelPadding":19,"titlePadding":-8}},
    "y":{"field":"v","type":"quantitative","scale":{"domain":[0,250],"nice":false},"axis":null}},
   "layer":[
    {"transform":[{"filter":"isValid(datum.v)"}],"mark":{"type":"bar","size":22.4,"color":"#161616"},"encoding":{}},
    {"transform":[{"filter":"isValid(datum.v)"}],"mark":{"type":"rule","color":"white","strokeWidth":1.5,"clip":true},"encoding":{"y2":{"field":"lo"}}},
    {"transform":[{"filter":"isValid(datum.v)"}],"mark":{"type":"rule","color":"#222","strokeWidth":1,"clip":true},"encoding":{"y2":{"field":"hi"}}},
    {"transform":[{"filter":"isValid(datum.s)"}],"mark":{"type":"text","text":"*","fontSize":28,"baseline":"alphabetic","dy":15,"color":"#111","clip":true},"encoding":{"y":{"field":"s","type":"quantitative","axis":null}}}
   ]}},
 {"data":{"name":"rep"},
  "transform":[{"filter":{"field":"c","oneOf":["HMR 1098","HMR 1098 + Preconditioning","HMR 1098 + Bradykinin","5-HD","5-HD + Preconditioning","5-HD + Bradykinin"]}}],
  "title":{"text":"Reperfusion","fontSize":26.5,"fontWeight":"normal","anchor":"middle","offset":22,"dx":-15},
  "facet":{"row":{"field":"c","type":"nominal","sort":["HMR 1098","HMR 1098 + Preconditioning","HMR 1098 + Bradykinin","5-HD","5-HD + Preconditioning","5-HD + Bradykinin"],"title":null,"header":{"labels":false,"title":null}}},
  "spacing":{"row":19.5},
  "spec":{"width":271,"height":91,
   "encoding":{
    "x":{"field":"t","type":"quantitative","scale":{"domain":[0,60],"nice":false,"zero":false,"padding":0},"axis":{"values":[0,60],"title":"Reperfusion time (min)","labelFlush":false,"offset":12,"tickSize":-6,"labelPadding":19,"titlePadding":-8}},
    "y":{"field":"v","type":"quantitative","scale":{"domain":[0,250],"nice":false},"axis":null}},
   "layer":[
    {"transform":[{"filter":"isValid(datum.v)"}],"mark":{"type":"bar","size":22.8,"color":"#161616"},"encoding":{}},
    {"transform":[{"filter":"isValid(datum.v)"}],"mark":{"type":"rule","color":"white","strokeWidth":1.5,"clip":true},"encoding":{"y2":{"field":"lo"}}},
    {"transform":[{"filter":"isValid(datum.v)"}],"mark":{"type":"rule","color":"#222","strokeWidth":1,"clip":true},"encoding":{"y2":{"field":"hi"}}},
    {"transform":[{"filter":"datum.t == 2.5 && isValid(datum.v)"}],"mark":{"type":"text","align":"right","baseline":"middle","fontSize":21.5,"color":"#111"},"encoding":{"x":{"datum":71.7},"y":{"datum":168},"text":{"field":"c"}}}
   ]}}
],"spacing":6}
],
"spacing":77
}
